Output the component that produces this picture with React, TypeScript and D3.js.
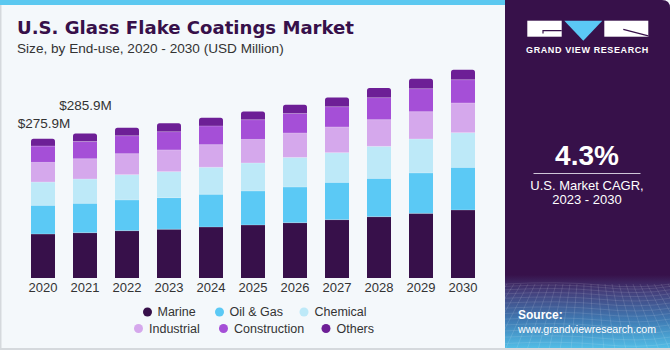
import React, { useEffect } from "react";
import * as d3 from "d3";

const years = ["2020", "2021", "2022", "2023", "2024", "2025", "2026", "2027", "2028", "2029", "2030"];
const seriesNames = ["Marine", "Oil & Gas", "Chemical", "Industrial", "Construction", "Others"];
const marine = [87.1, 89.7, 93.7, 96.5, 101.0, 105.0, 109.5, 115.5, 121.4, 128.0, 134.7];
const oilGas = [56.8, 58.2, 60.8, 62.6, 64.8, 67.3, 70.7, 73.9, 75.9, 80.0, 84.4];
const chemical = [46.1, 48.1, 50.1, 51.5, 53.5, 55.5, 58.6, 58.8, 63.4, 67.3, 68.7];
const industrial = [39.0, 40.2, 41.6, 43.0, 44.8, 46.7, 48.3, 50.9, 52.9, 54.1, 58.8];
const construction = [32.3, 34.0, 35.6, 36.2, 37.0, 39.0, 38.8, 40.2, 43.6, 45.6, 46.1];
const others = [14.5, 15.8, 15.8, 16.6, 16.4, 16.4, 17.2, 18.4, 19.2, 19.8, 19.8];
const labelYears = ["2020", "2021"];
const labelTexts = ["$275.9M", "$285.9M"];
const labelTotals = [275.9, 285.9];
const colors = ["#37104a", "#5bc9f5", "#bde9f8", "#d5a8ec", "#a54fd7", "#6d1f96"];
const seriesValues = [marine, oilGas, chemical, industrial, construction, others];

// label placement offsets (layout, not data)
const labelDx = [1, 0.5];
const labelDy = [10.5, 24];

const FONT = "'Liberation Sans', Arial, sans-serif";

export default function App() {
  useEffect(() => {
    document.body.style.margin = "0";
  }, []);

  const x = d3.scalePoint<string>().domain(years).range([43, 463]);
  const y = d3.scaleLinear().domain([0, 275.9]).range([278, 138.7]);
  const barW = 24;

  const table = years.map((yr, i) => {
    const row: any = { year: yr };
    seriesNames.forEach((s, k) => (row[s] = seriesValues[k][i]));
    return row;
  });
  const stack = d3.stack<any>().keys(seriesNames)(table);

  const legend1 = [
    { name: "Marine", cx: 147.5, tx: 157.5 },
    { name: "Oil & Gas", cx: 219.5, tx: 229.5 },
    { name: "Chemical", cx: 304, tx: 314.5 },
  ];
  const legend2 = [
    { name: "Industrial", cx: 138.5, tx: 149 },
    { name: "Construction", cx: 223.5, tx: 234 },
    { name: "Others", cx: 326, tx: 336.5 },
  ];

  // perspective grid in panel bottom
  const gridLines: JSX.Element[] = [];
  for (let i = 0; i <= 26; i++) {
    const xb = 505 + (i - 5) * 11;
    const xt = 505 + (i - 5) * 7 + 30;
    gridLines.push(<line key={"v" + i} x1={xt} y1={284} x2={xb} y2={350} stroke="#ffffff" strokeOpacity={0.2} strokeWidth={0.6} />);
  }
  for (let j = 0; j < 14; j++) {
    const yy = 284 + Math.pow(j / 13, 1.3) * 66;
    gridLines.push(<path key={"h" + j} d={`M505,${yy}Q560,${yy - 3} 600,${yy + 1}T670,${yy}`} fill="none" stroke="#ffffff" strokeOpacity={0.18} strokeWidth={0.6} />);
  }

  const roundTop = (x0: number, y0: number, w: number, h: number, r: number) =>
    `M${x0},${y0 + h}V${y0 + r}Q${x0},${y0} ${x0 + r},${y0}H${x0 + w - r}Q${x0 + w},${y0} ${x0 + w},${y0 + r}V${y0 + h}Z`;

  return (
    <svg width={670} height={350} style={{ display: "block", fontFamily: FONT }}>
      <defs>
        <linearGradient id="panelGrad" x1="0" y1="0" x2="0" y2="1">
          <stop offset="0" stopColor="#37114a" />
          <stop offset="0.79" stopColor="#37114a" />
          <stop offset="0.84" stopColor="#44407c" />
          <stop offset="0.92" stopColor="#3f7ab3" />
          <stop offset="1" stopColor="#52bde6" />
        </linearGradient>
        <clipPath id="panelClip">
          <path d="M505,0H662Q670,0 670,8V348H505Z" />
        </clipPath>
      </defs>
      <rect x={0} y={0} width={670} height={350} fill="#f4f8fb" />
      <rect x={0} y={0} width={1.5} height={350} fill="#d5d9dd" />
      <rect x={0} y={348} width={670} height={2} fill="#d5d9dd" />
      <rect x={0} y={0} width={510} height={5} fill="#5bc8f0" />

      {/* Right panel */}
      <g clipPath="url(#panelClip)">
        <rect x={505} y={0} width={165} height={348} fill="url(#panelGrad)" />
        {gridLines}
      </g>
      {/* Logo */}
      <rect x={527.3} y={20.7} width={34.4} height={16} fill="#ffffff" />
      <path d="M543,33.5V30.6H561.7" fill="none" stroke="#37114a" strokeWidth={1.2} />
      <path d="M564.3,20.7H602.3L583.3,40.7Z" fill="#5bc8f5" />
      <rect x={604.3} y={20.7} width={44} height={16} fill="#ffffff" />
      <path d="M623.3,29.3L648.3,35.8" fill="none" stroke="#37114a" strokeWidth={1.2} />
      <text x={587.5} y={52.7} textAnchor="middle" fill="#ffffff" fontSize={9} fontWeight="bold" letterSpacing={0.6}>
        GRAND VIEW RESEARCH
      </text>

      <text x={587} y={164.5} textAnchor="middle" fill="#ffffff" fontSize={28} fontWeight="bold">
        4.3%
      </text>
      <line x1={533.5} x2={640.5} y1={173.5} y2={173.5} stroke="#cfc6d8" strokeWidth={1} />
      <text x={587} y={190} textAnchor="middle" fill="#ffffff" fontSize={13}>
        U.S. Market CAGR,
      </text>
      <text x={587} y={204} textAnchor="middle" fill="#ffffff" fontSize={13}>
        2023 - 2030
      </text>
      <text x={518} y={319} fill="#ffffff" fontSize={12} fontWeight="bold">
        Source:
      </text>
      <text x={518} y={332.5} fill="#ffffff" fontSize={11} textLength={138} lengthAdjust="spacingAndGlyphs">
        www.grandviewresearch.com
      </text>

      {/* Title */}
      <text x={17} y={33.5} fill="#37104a" fontSize={17.5} fontWeight="bold" fontFamily="'DejaVu Sans', sans-serif" textLength={337} lengthAdjust="spacingAndGlyphs">
        U.S. Glass Flake Coatings Market
      </text>
      <text x={17} y={53} fill="#333333" fontSize={13.6}>
        Size, by End-use, 2020 - 2030 (USD Million)
      </text>

      {/* Bars */}
      {stack.map((layer, k) => (
        <g key={layer.key} fill={colors[k]}>
          {layer.map((d, i) => {
            const x0 = (x(years[i]) as number) - barW / 2;
            const y0 = y(d[1]);
            const h = y(d[0]) - y(d[1]);
            if (k === stack.length - 1) {
              return <path key={i} d={roundTop(x0, y0, barW, h, 2.5)} />;
            }
            return <rect key={i} x={x0} y={y0} width={barW} height={h} />;
          })}
        </g>
      ))}
      {/* thin separators */}
      {stack.slice(0, -1).map((layer) => (
        <g key={"s" + layer.key}>
          {layer.map((d, i) => {
            const x0 = (x(years[i]) as number) - barW / 2;
            return <line key={i} x1={x0} x2={x0 + barW} y1={y(d[1])} y2={y(d[1])} stroke="#ffffff" strokeOpacity={0.35} strokeWidth={0.7} />;
          })}
        </g>
      ))}

      {/* Value labels */}
      {labelYears.map((yr, i) => (
        <text key={yr} x={(x(yr) as number) + labelDx[i]} y={y(labelTotals[i]) - labelDy[i]} textAnchor="middle" fill="#333333" fontSize={13.5}>
          {labelTexts[i]}
        </text>
      ))}

      {/* Year labels */}
      {years.map((yr) => (
        <text key={yr} x={x(yr) as number} y={292} textAnchor="middle" fill="#333333" fontSize={13}>
          {yr}
        </text>
      ))}

      {/* Legend */}
      {[legend1, legend2].map((row, r) =>
        row.map((l) => {
          const k = seriesNames.indexOf(l.name);
          const yy = r === 0 ? 312 : 328.5;
          return (
            <g key={l.name}>
              <circle cx={l.cx} cy={yy} r={4.5} fill={colors[k]} />
              <text x={l.tx} y={yy + 4.3} fill="#333333" fontSize={12.5}>
                {l.name}
              </text>
            </g>
          );
        })
      )}
    </svg>
  );
}
